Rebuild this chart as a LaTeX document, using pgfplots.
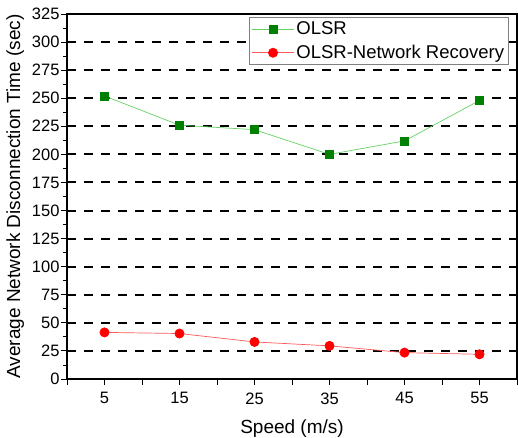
\documentclass[border=0pt]{standalone}
\usepackage{fontspec}
\setmainfont{Liberation Sans}
\usepackage{pgfplots}
\pgfplotsset{compat=1.18}
\usetikzlibrary{calc}
\begin{document}
\begin{tikzpicture}
\begin{axis}[
    name=main,
    scale only axis,
    width=450pt, height=365pt,
    xmin=0, xmax=60, ymin=0, ymax=325,
    xtick={0,5,...,60},
    xticklabels={,5,,15,,25,,35,,45,,55,},
    ytick={0,25,...,325},
    minor ytick={12.5,37.5,...,312.5},
    tick pos=left,
    tick align=outside,
    major tick length=6pt,
    minor tick length=4pt,
    tick style={black, line width=0.9pt},
    axis line style={line width=1.2pt},
    ymajorgrids,
    grid style={black, line width=2pt, dash pattern=on 9pt off 8pt},
    /pgf/number format/assume math mode=true,
    ticklabel style={font=\fontsize{16.5}{18}\selectfont},
    yticklabel style={xshift=2pt},
    xticklabel style={yshift=-4pt},
    xlabel={Speed (m/s)},
    ylabel={Average Network Disconnection Time (sec)},
    label style={font=\fontsize{19}{21}\selectfont},
    xlabel style={yshift=-9pt},
    ylabel style={yshift=1pt},
    legend style={at={(0.405,0.992)}, anchor=north west, draw=gray, line width=0.9pt,
        font=\fontsize{18.5}{21}\selectfont, inner xsep=2pt, inner ysep=2.5pt, row sep=5pt,
        legend cell align=left},
    legend image code/.code={
        \draw[#1] (0pt,0pt) -- (42pt,0pt);
        \draw[#1, mark repeat=2, mark phase=2] plot coordinates {(0pt,0pt) (21pt,0pt) (42pt,0pt)};
    },
]
\addplot[color=green!70!black!60!white, line width=0.7pt, mark=square*,
    mark options={draw=green!50!black, fill=green!50!black, mark size=4pt, solid}] coordinates {
    (5,252) (15,226) (25,222) (35,200) (45,212) (55,248)
};
\addplot[color=red!65!white, line width=0.7pt, mark=*,
    mark options={draw=red, fill=red, mark size=4.6pt, solid}] coordinates {
    (5,41.5) (15,40.5) (25,33) (35,29.5) (45,23.5) (55,22)
};
\legend{OLSR, OLSR-Network Recovery}
\end{axis}
\pgfresetboundingbox
\useasboundingbox ($(main.south west)+(-67pt,-58pt)$) rectangle ($(main.north east)+(1pt,14pt)$);
\end{tikzpicture}
\end{document}
